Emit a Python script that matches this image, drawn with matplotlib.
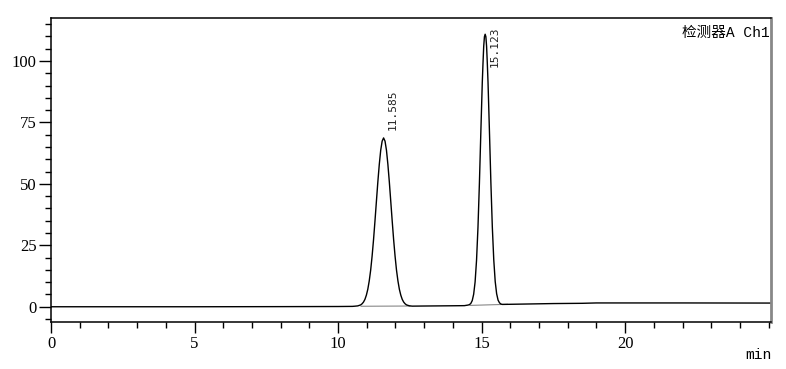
import matplotlib
matplotlib.use("Agg")
import matplotlib.pyplot as plt
from matplotlib.ticker import MultipleLocator

# detector signal (mAU), time in min
time_min = [0.0, 5.0, 8.0, 10.0, 10.5,
            10.585, 10.685, 10.785, 10.835, 10.885, 10.935, 10.985, 11.035, 11.085, 11.135,
            11.185, 11.235, 11.285, 11.335, 11.385, 11.435, 11.485, 11.535,
            11.585, 11.635, 11.685, 11.735, 11.785, 11.835, 11.885, 11.935, 11.985, 12.035,
            12.085, 12.135, 12.185, 12.235, 12.285, 12.335, 12.385, 12.485, 12.585,
            13.0, 14.0, 14.4,
            14.523, 14.573, 14.623, 14.673, 14.723, 14.773, 14.823, 14.873, 14.923, 14.973,
            15.023, 15.048, 15.073, 15.098, 15.123, 15.148, 15.173, 15.198, 15.223,
            15.273, 15.323, 15.373, 15.423, 15.473, 15.523, 15.573, 15.623, 15.673, 15.723,
            16.5, 17.5, 18.5, 19.0, 22.0, 25.1]
signal = [0.0, 0.0, 0.05, 0.1, 0.15,
          0.23, 0.35, 0.74, 1.2, 1.9, 3.0, 4.7, 7.1, 10.5, 14.9,
          20.6, 27.3, 34.9, 42.9, 50.8, 57.9, 63.7, 67.4,
          68.7, 67.4, 63.7, 57.9, 50.8, 42.9, 34.9, 27.3, 20.6, 14.9,
          10.5, 7.1, 4.7, 3.0, 1.9, 1.2, 0.75, 0.37, 0.25,
          0.3, 0.4, 0.45,
          0.68, 0.85, 1.34, 2.5, 5.1, 10.1, 18.9, 32.3, 50.3, 71.1,
          91.2, 99.1, 106.0, 109.9, 110.9, 109.9, 106.0, 99.2, 91.3,
          71.2, 50.4, 32.4, 19.1, 10.3, 5.3, 2.7, 1.6, 1.1, 0.95,
          1.1, 1.3, 1.4, 1.55, 1.55, 1.5]

# integration baselines drawn under each peak
base_t = [[10.8, 12.5], [14.6, 15.9]]
base_y = [[0.2, 0.3], [0.55, 1.0]]

peak_rt = ["11.585", "15.123"]
label_x = [11.92, 15.44]
label_y = [72, 114]
label_va = ["bottom", "top"]

x_major = [0, 5, 10, 15, 20]

fig = plt.figure(figsize=(7.86, 3.69), dpi=100)
ax = fig.add_axes([0.0649, 0.1274, 0.916, 0.8238])

for bt, by in zip(base_t, base_y):
    ax.plot(bt, by, color="#888888", lw=0.8)
ax.plot(time_min, signal, color="black", lw=1.0)

for txt, x, y, va in zip(peak_rt, label_x, label_y, label_va):
    ax.text(x, y, txt, rotation=90, ha="center", va=va, fontsize=8,
            family="DejaVu Sans Mono", color="#222222")

ax.set_xlim(0, 25.08)
ax.set_ylim(-6.2, 117.5)
ax.set_xticks(x_major)
ax.xaxis.set_minor_locator(MultipleLocator(1))
ax.yaxis.set_major_locator(MultipleLocator(25))
ax.yaxis.set_minor_locator(MultipleLocator(5))
ax.tick_params(axis="x", which="major", direction="out", length=8, width=1, pad=2)
ax.tick_params(axis="x", which="minor", direction="out", length=4, width=1)
ax.tick_params(axis="y", which="major", direction="out", length=9, width=1, pad=1.5)
ax.tick_params(axis="y", which="minor", direction="out", length=4, width=1)
for lab in ax.get_xticklabels() + ax.get_yticklabels():
    lab.set_family("Liberation Serif")
    lab.set_fontsize(12)

for s in ["left", "bottom", "top"]:
    ax.spines[s].set_linewidth(1.1)
ax.spines["right"].set_color("#888888")
ax.spines["right"].set_linewidth(2)

ax.text(0.998, 0.975, "检测器A Ch1", transform=ax.transAxes, ha="right", va="top",
        fontsize=10.5, family=["Liberation Mono", "Noto Sans CJK SC"])
fig.text(0.981, 0.038, "min", ha="right", va="center", fontsize=10.5,
         family="Liberation Mono")

fig.savefig("out.png", dpi=100)
